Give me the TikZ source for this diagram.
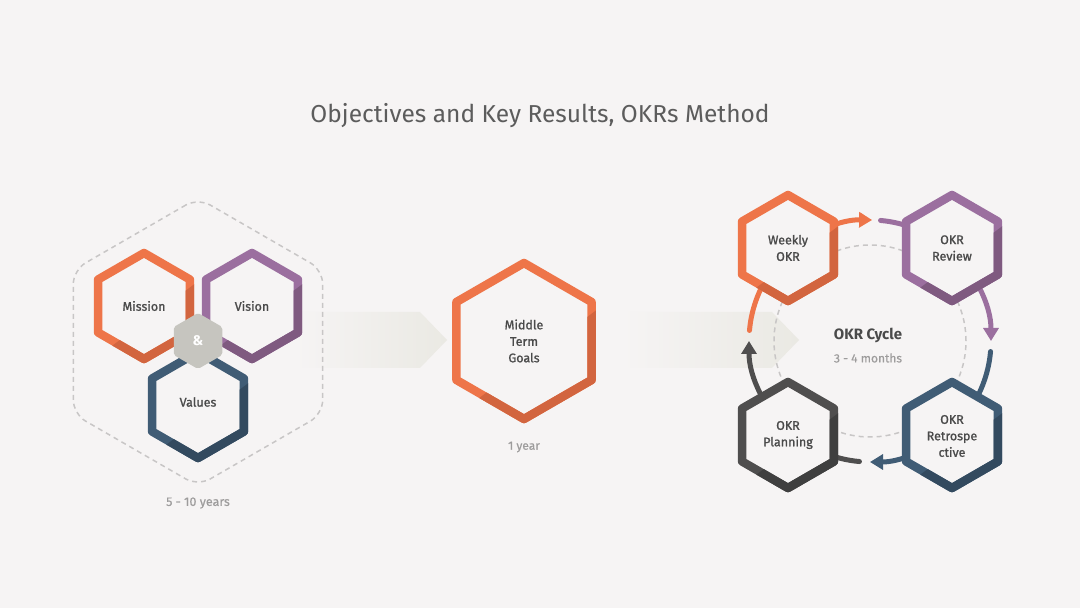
\documentclass[tikz,border=0pt]{standalone}
\usepackage{fontspec}
\setmainfont{Fira Sans}
\usetikzlibrary{arrows.meta}
\definecolor{bgc}{HTML}{F6F4F4}
\definecolor{orng}{HTML}{EE7549}
\definecolor{orngdk}{HTML}{D2653F}
\definecolor{purp}{HTML}{9B6F9F}
\definecolor{purpdk}{HTML}{7F5A80}
\definecolor{blu}{HTML}{405C75}
\definecolor{bludk}{HTML}{334A5F}
\definecolor{drk}{HTML}{4F4E4E}
\definecolor{drkdk}{HTML}{3F3F3F}
\definecolor{txt}{HTML}{4A4A4A}
\definecolor{sub}{HTML}{9D9C9C}
\definecolor{chev}{HTML}{EAE9E3}
\definecolor{ampc}{HTML}{C6C5BF}
\definecolor{dashc}{HTML}{C8C6C6}
% hexagon ring, darker on its lower right: x, y, radius, colour
\newcommand{\hexcell}[4]{%
  \begin{scope}[shift={(#1,#2)}]
    \filldraw[fill=bgc, draw=#4, line width=8.5pt, line join=round]
      (90:#3) -- (150:#3) -- (210:#3) -- (270:#3) -- (330:#3) -- (30:#3) -- cycle;
    \begin{scope}
      \clip (1.2*#3,0.6*#3) -- (-1.2*#3,-1.2*#3) -- (1.2*#3,-1.2*#3) -- cycle;
      \draw[draw=#4dk, line width=8.5pt, line join=round]
        (90:#3) -- (150:#3) -- (210:#3) -- (270:#3) -- (330:#3) -- (30:#3) -- cycle;
    \end{scope}
  \end{scope}}
\begin{document}
\begin{tikzpicture}[x=1pt, y=1pt,
    lbl/.style={font=\fontsize{12.5}{16.5}\selectfont\addfontfeature{FakeBold=1.2}, text=txt, align=center},
    note/.style={font=\fontsize{12.5}{15}\selectfont\addfontfeature{FakeBold=0.6}, text=sub},
    cyca/.style={line width=5pt, -{Triangle[length=13pt,width=15pt]}},
    stub/.style={line width=5pt, line cap=round}]
  \useasboundingbox (0,0) rectangle (1080,608);
  \fill[bgc] (0,0) rectangle (1080,608);
  % title
  \node[font=\fontsize{24.5}{28}\selectfont, text=txt!90] (title) at (540,492)
    {Objectives and Key Results, OKRs Method};
  % pale chevrons
  \shade[left color=bgc, right color=chev] (295,296) -- (420,296) -- (447,268)
    -- (420,240) -- (295,240) -- cycle;
  \shade[left color=bgc, right color=chev] (622,296) -- (772,296) -- (799,268)
    -- (772,240) -- (622,240) -- cycle;
  % 5 - 10 years group
  \draw[dashc, line width=1.5pt, dash pattern=on 5pt off 4pt, rounded corners=14pt,
    shift={(198,266)}]
    (90:144) -- (150:144) -- (210:144) -- (270:144) -- (330:144) -- (30:144) -- cycle;
  \hexcell{144}{302}{53}{orng}
  \hexcell{252}{302}{53}{purp}
  \hexcell{198}{203}{53}{blu}
  \fill[ampc, rounded corners=2pt, shift={(198,267)}]
    (90:28) -- (150:28) -- (210:28) -- (270:28) -- (330:28) -- (30:28) -- cycle;
  \node[lbl] (mission) at (144,302) {Mission};
  \node[lbl] (vision) at (252,302) {Vision};
  \node[lbl] (values) at (198,206) {Values};
  \node[font=\bfseries\fontsize{14}{16}\selectfont, text=white] (amp) at (198,267) {\&};
  \node[note] (longterm) at (198,105) {5 - 10 years};
  % middle term
  \hexcell{524}{267}{78}{orng}
  \node[lbl] (goals) at (524,267) {Middle\\Term\\Goals};
  \node[note, font=\fontsize{12}{14}\selectfont\addfontfeature{FakeBold=0.6}] (oneyear) at (524,161) {1 year};
  % OKR cycle
  \coordinate (cyc) at (870,267);
  \draw[dashc, line width=1.5pt, dash pattern=on 5pt off 4pt] (cyc) circle (96);
  \draw[cyca, orng] ([shift={(130:121)}]cyc) arc[start angle=130, end angle=89, radius=121];
  \draw[stub, purp] ([shift={(85:121)}]cyc) arc[start angle=85, end angle=50, radius=121];
  \draw[cyca, purp] ([shift={(50:121)}]cyc) arc[start angle=50, end angle=0, radius=121];
  \draw[stub, blu] ([shift={(-5:121)}]cyc) arc[start angle=-5, end angle=-48, radius=121];
  \draw[cyca, blu] ([shift={(-50:121)}]cyc) arc[start angle=-50, end angle=-90, radius=121];
  \draw[stub, drk] ([shift={(-95:121)}]cyc) arc[start angle=-95, end angle=-130, radius=121];
  \draw[cyca, drk] ([shift={(230:121)}]cyc) arc[start angle=230, end angle=180, radius=121];
  \draw[stub, orng] ([shift={(175:121)}]cyc) arc[start angle=175, end angle=132, radius=121];
  \hexcell{788}{360}{53}{orng}
  \hexcell{952}{360}{53}{purp}
  \hexcell{952}{173}{53}{blu}
  \hexcell{788}{173}{53}{drk}
  \node[lbl] (weekly) at (788,360) {Weekly\\OKR};
  \node[lbl] (review) at (952,360) {OKR\\Review};
  \node[lbl] (retro) at (952,172) {OKR\\Retrospe\\ctive};
  \node[lbl] (planning) at (788,173) {OKR\\Planning};
  \node[font=\bfseries\fontsize{15}{18}\selectfont, text=txt] (cycle) at (868,273) {OKR Cycle};
  \node[note, font=\fontsize{12}{14}\selectfont\addfontfeature{FakeBold=0.6}] (months) at (868,250) {3 - 4 months};
\end{tikzpicture}
\end{document}
